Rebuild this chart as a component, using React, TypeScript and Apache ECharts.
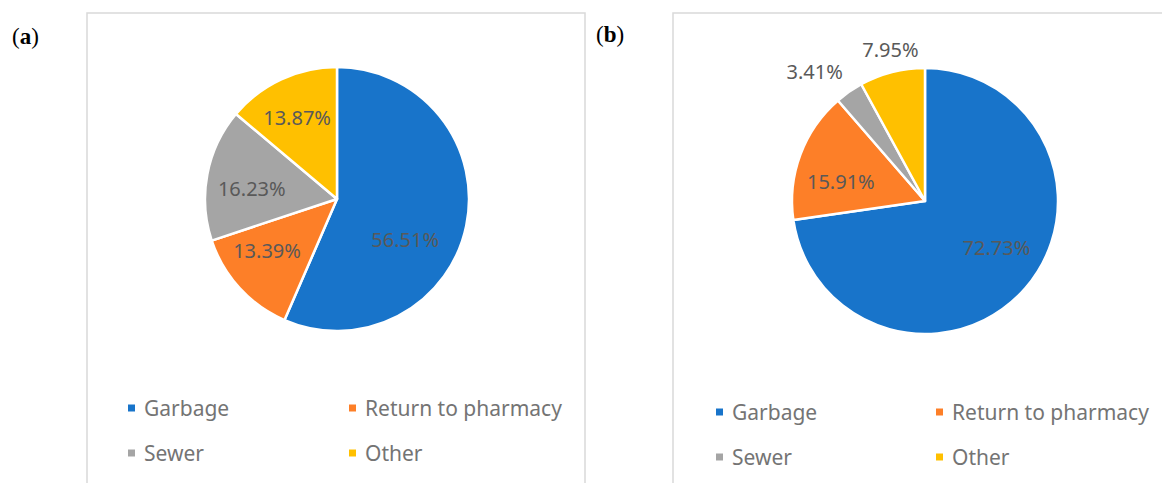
import React, { useEffect, useRef } from "react";
import * as echarts from "echarts";

// ---- data ----
const categories = ["Garbage", "Return to pharmacy", "Sewer", "Other"];
const valuesA = [56.51, 13.39, 16.23, 13.87];
const valuesB = [72.73, 15.91, 3.41, 7.95];
const colors = ["#1874CA", "#FD7F28", "#A5A5A5", "#FFC000"];
const panelLabels = ["a", "b"];

// ---- layout (label anchors: [angle clockwise from 12 o'clock in deg, radius factor]) ----
const anchorsA: [number, number][] = [
  [120.5, 0.6],
  [233.4, 0.66],
  [276.7, 0.65],
  [334, 0.69],
];
const anchorsB: [number, number][] = [
  [122.9, 0.64],
  [283.3, 0.65],
  [319.6, 1.28],
  [347.1, 1.165],
];

const panels = [
  {
    values: valuesA,
    anchors: anchorsA,
    center: [337, 199],
    radius: 132,
    box: { x: 87, y: 13, w: 498 },
    tag: { x: 12, y: 36 },
    legend: { col1: 126, col2: 347, row1: 408, row2: 453 },
  },
  {
    values: valuesB,
    anchors: anchorsB,
    center: [925, 201],
    radius: 133,
    box: { x: 673, y: 13, w: 500 },
    tag: { x: 596, y: 34 },
    legend: { col1: 714, col2: 934, row1: 412, row2: 457 },
  },
];

const FONT = "'Noto Sans', 'Open Sans', sans-serif";
const SERIF = "'Liberation Serif', 'DejaVu Serif', serif";

export default function App() {
  const ref = useRef<HTMLDivElement>(null);
  useEffect(() => {
    if (!ref.current) return;
    const chart = echarts.init(ref.current, undefined, { renderer: "svg" });

    const series: any[] = [];
    const legends: any[] = [];
    const graphics: any[] = [];

    panels.forEach((p, pi) => {
      const [cx, cy] = p.center;
      series.push({
        type: "pie",
        name: "panel" + pi,
        center: [cx, cy],
        radius: p.radius,
        startAngle: 90,
        clockwise: true,
        silent: true,
        avoidLabelOverlap: false,
        itemStyle: { borderColor: "#ffffff", borderWidth: 2.5 },
        label: {
          show: true,
          position: "inside",
          color: "#595959",
          fontFamily: FONT,
          fontSize: 20,
          textBorderWidth: 0,
          formatter: (prm: any) => Number(prm.value).toFixed(2) + "%",
        },
        labelLine: { show: false },
        labelLayout: (prm: any) => {
          const a = p.anchors[prm.dataIndex];
          const ang = (a[0] * Math.PI) / 180;
          const d = a[1] * p.radius;
          return {
            x: cx + Math.sin(ang) * d,
            y: cy - Math.cos(ang) * d,
            align: "center",
            verticalAlign: "middle",
          };
        },
        emphasis: { disabled: true },
        data: categories.map((c, i) => ({
          name: c,
          value: p.values[i],
          itemStyle: { color: colors[i] },
        })),
      });

      const pos = [
        [p.legend.col1, p.legend.row1],
        [p.legend.col2, p.legend.row1],
        [p.legend.col1, p.legend.row2],
        [p.legend.col2, p.legend.row2],
      ];
      categories.forEach((c, i) => {
        legends.push({
          data: [{ name: c, icon: "rect" }],
          left: pos[i][0],
          top: pos[i][1] - 12,
          padding: 0,
          itemWidth: 9,
          itemHeight: 9,
          selectedMode: false,
          textStyle: {
            color: "#747474",
            fontFamily: FONT,
            fontSize: 21,
            lineHeight: 24,
            padding: [0, 0, 0, 3],
          },
        });
      });

      graphics.push({
        type: "rect",
        shape: { x: p.box.x, y: p.box.y, width: p.box.w, height: 600 },
        style: { fill: "none", stroke: "#D9D9D9", lineWidth: 1.5 },
        silent: true,
        z: -1,
      });
      graphics.push({
        type: "text",
        x: p.tag.x,
        y: p.tag.y,
        style: {
          text: "{p|(}{b|" + panelLabels[pi] + "}{p|)}",
          fontFamily: SERIF,
          fontSize: 23,
          fill: "#000",
          verticalAlign: "middle",
          rich: {
            p: { fontFamily: SERIF, fontSize: 23, fill: "#000" },
            b: { fontFamily: SERIF, fontSize: 23, fontWeight: "bold", fill: "#000" },
          },
        },
        silent: true,
      });
    });

    chart.setOption({
      animation: false,
      backgroundColor: "#ffffff",
      color: colors,
      legend: legends,
      graphic: graphics,
      series,
    });
    return () => chart.dispose();
  }, []);

  return (
    <div
      ref={ref}
      style={{ position: "fixed", left: 0, top: 0, width: 1162, height: 483 }}
    />
  );
}
